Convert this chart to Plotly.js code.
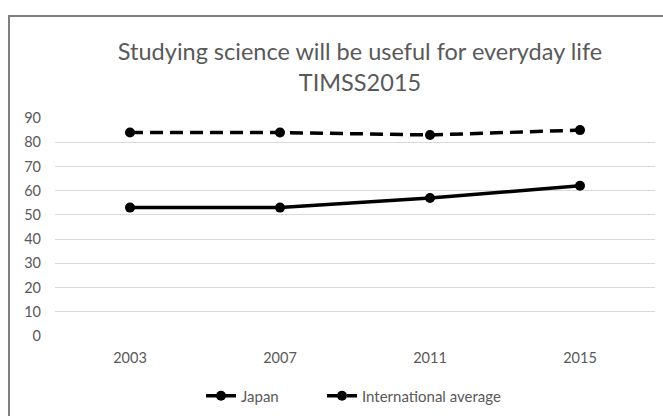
<!DOCTYPE html>
<html>
<head>
<meta charset="utf-8">
<script src="https://cdn.plot.ly/plotly-3.0.1.min.js"></script>
<style>
  html, body { margin: 0; padding: 0; background: #ffffff; }
  #wrap { position: relative; width: 663px; height: 416px; overflow: hidden; }
  #chart { position: absolute; left: 0; top: 0; width: 663px; height: 416px; }
  #frame { position: absolute; left: 8px; top: 15px; width: 700px; height: 450px;
           border-left: 2px solid #7f7f7f; border-top: 2px solid #7f7f7f; pointer-events: none; box-sizing: border-box; }
</style>
</head>
<body>
<div id="wrap">
  <div id="chart"></div>
  <div id="frame"></div>
</div>
<script>
const years = ['2003', '2007', '2011', '2015'];
const japan = [53, 53, 57, 62];
const international = [84, 84, 83, 85];
const yTicks = [0, 10, 20, 30, 40, 50, 60, 70, 80, 90];

const FONT = 'Lato, "Open Sans", sans-serif';
const GREY = '#595959';

const traces = [
  {
    x: years, y: japan, name: 'Japan', type: 'scatter', mode: 'lines+markers',
    line: { color: '#000000', width: 3.5 },
    marker: { color: '#000000', size: 10, symbol: 'circle' },
    legend: 'legend'
  },
  {
    x: years, y: international, name: 'International average', type: 'scatter', mode: 'lines+markers',
    line: { color: '#000000', width: 3.5, dash: '13px,7px' },
    marker: { color: '#000000', size: 10, symbol: 'circle' },
    legend: 'legend2'
  }
];

const legendBase = {
  orientation: 'h', xref: 'container', yref: 'container',
  xanchor: 'left', y: 1 - 396 / 416, yanchor: 'middle',
  font: { family: FONT, size: 15, color: GREY },
  bgcolor: 'rgba(0,0,0,0)'
};

const layout = {
  width: 663, height: 416,
  paper_bgcolor: '#ffffff', plot_bgcolor: '#ffffff',
  margin: { l: 55, r: 8, t: 118, b: 80, pad: 0 },
  font: { family: FONT, color: GREY, size: 14.5 },
  title: {
    text: 'Studying science will be useful for everyday life<br>TIMSS2015',
    font: { family: FONT, size: 23.5, color: GREY },
    xref: 'container', yref: 'container',
    x: 360 / 663, xanchor: 'center',
    y: 1 - 60 / 416, yanchor: 'top'
  },
  xaxis: {
    type: 'category', categoryorder: 'array', categoryarray: years,
    range: [-0.5, 3.5],
    showgrid: false, zeroline: false, showline: false,
    ticks: '', ticklabelstandoff: 11,
    tickfont: { family: FONT, size: 14.5, color: GREY },
    fixedrange: true
  },
  yaxis: {
    range: [0, 90], tickvals: yTicks, ticktext: yTicks.map(String),
    showgrid: true, gridcolor: '#d9d9d9', gridwidth: 1,
    zeroline: false, showline: false, ticks: '', ticklabelstandoff: 13,
    tickfont: { family: FONT, size: 14.5, color: GREY },
    fixedrange: true
  },
  showlegend: true,
  legend: Object.assign({}, legendBase, { x: 201 / 663 }),
  legend2: Object.assign({}, legendBase, { x: 322 / 663 }),
  hovermode: false
};

Plotly.newPlot('chart', traces, layout, { displayModeBar: false, staticPlot: true });
</script>
</body>
</html>
